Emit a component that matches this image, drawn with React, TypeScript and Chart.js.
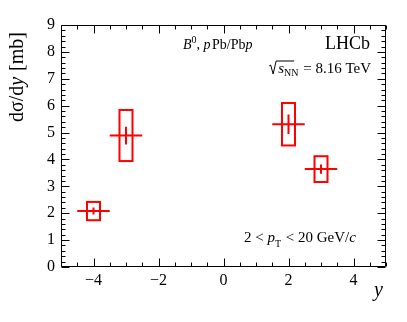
import React, { useEffect, useRef } from "react";
import { Chart, registerables } from "chart.js";

Chart.register(...registerables);

// ---- data ----
const rapidity = [-4, -3, 2, 3];
const crossSection = [2.08, 4.89, 5.31, 3.64];
const statError = [0.13, 0.33, 0.36, 0.17];
const systError = [0.34, 0.95, 0.79, 0.48];
const binHalfWidth = [0.5, 0.5, 0.5, 0.5];
const xTickValues = [-4, -2, 0, 2, 4];
const yTickValues = [0, 1, 2, 3, 4, 5, 6, 7, 8, 9];

const BOX_HALF = 0.2;
const RED = "#ff0000";
const SERIF = "'Liberation Serif', 'DejaVu Serif', serif";

type Run = { text: string; font: string; dy?: number; gap?: number };

function runsWidth(ctx: CanvasRenderingContext2D, runs: Run[]) {
  let w = 0;
  for (const r of runs) {
    ctx.font = r.font;
    w += ctx.measureText(r.text).width + (r.gap || 0);
  }
  return w;
}

function drawRuns(
  ctx: CanvasRenderingContext2D,
  runs: Run[],
  x: number,
  y: number,
  align: "left" | "right" = "left"
) {
  const w = runsWidth(ctx, runs);
  let cx = align === "right" ? x - w : x;
  ctx.textAlign = "left";
  ctx.textBaseline = "alphabetic";
  for (const r of runs) {
    ctx.font = r.font;
    ctx.fillText(r.text, cx, y + (r.dy || 0));
    cx += ctx.measureText(r.text).width + (r.gap || 0);
  }
  return w;
}

const reg = (s: number) => `${s}px ${SERIF}`;
const ital = (s: number) => `italic ${s}px ${SERIF}`;

const framePlugin = {
  id: "frameTicks",
  afterDraw(chart: any) {
    const { ctx, chartArea: a, scales } = chart;
    const xs = scales.x;
    const ys = scales.y;
    ctx.save();
    ctx.strokeStyle = "#000";
    ctx.lineWidth = 1;
    const L = Math.round(a.left) + 0.5;
    const R = Math.round(a.right) - 0.5;
    const T = Math.round(a.top) + 0.5;
    const B = Math.round(a.bottom) - 0.5;
    ctx.beginPath();
    ctx.rect(L, T, R - L, B - T);
    ctx.stroke();

    ctx.beginPath();
    // x ticks: every 0.5, major every 2
    for (let i = -10; i <= 10; i++) {
      const v = i * 0.5;
      const px = Math.round(xs.getPixelForValue(v)) + 0.5;
      const major = Math.abs(v % 2) < 1e-9;
      const len = major ? 8 : 4;
      ctx.moveTo(px, B);
      ctx.lineTo(px, B - len);
      ctx.moveTo(px, T);
      ctx.lineTo(px, T + len);
    }
    // y ticks: every 0.2, major every 1
    for (let i = 0; i <= 45; i++) {
      const v = i * 0.2;
      const py = Math.round(ys.getPixelForValue(v)) + 0.5;
      const major = i % 5 === 0;
      const len = major ? 8 : 4;
      ctx.moveTo(L, py);
      ctx.lineTo(L + len, py);
      ctx.moveTo(R, py);
      ctx.lineTo(R - len, py);
    }
    ctx.stroke();

    // text
    ctx.fillStyle = "#000";
    // B0, pPb/Pbp
    drawRuns(
      ctx,
      [
        { text: "B", font: ital(14) },
        { text: "0", font: reg(10), dy: -6 },
        { text: ", ", font: reg(14) },
        { text: "p", font: ital(14), gap: 1.5 },
        { text: "Pb/Pb", font: reg(14) },
        { text: "p", font: ital(14) },
      ],
      183,
      49
    );
    // LHCb
    drawRuns(ctx, [{ text: "LHCb", font: reg(18) }], 370, 49, "right");
    // sqrt(sNN) = 8.16 TeV
    const sqrtRuns: Run[] = [
      { text: "s", font: ital(15) },
      { text: "NN", font: reg(10), dy: 3, gap: 1 },
      { text: " = 8.16 TeV", font: reg(15) },
    ];
    const sw = drawRuns(ctx, sqrtRuns, 371, 73, "right");
    const sx = 371 - sw;
    ctx.beginPath();
    ctx.lineWidth = 1;
    ctx.moveTo(sx - 9, 66);
    ctx.lineTo(sx - 7.5, 65);
    ctx.lineTo(sx - 5, 74);
    ctx.lineTo(sx - 2, 61);
    ctx.lineTo(sx + 16, 61);
    ctx.stroke();
    // 2 < pT < 20 GeV/c
    drawRuns(
      ctx,
      [
        { text: "2 < ", font: reg(15) },
        { text: "p", font: ital(15) },
        { text: "T", font: reg(10), dy: 5, gap: 1 },
        { text: " < 20 GeV/", font: reg(15) },
        { text: "c", font: ital(15) },
      ],
      244,
      241.5
    );
    // x title
    drawRuns(ctx, [{ text: "y", font: ital(20) }], 383, 296, "right");
    // y title (rotated)
    ctx.save();
    ctx.translate(23, 32);
    ctx.rotate(-Math.PI / 2);
    const yRuns: Run[] = [
      { text: "d\u03c3/d", font: reg(20) },
      { text: "y", font: ital(20), gap: 1 },
      { text: " [mb]", font: reg(20) },
    ];
    drawRuns(ctx, yRuns, 0, 0, "right");
    ctx.restore();
    ctx.restore();
  },
};

const pointsPlugin = {
  id: "errorBoxes",
  afterDatasetsDraw(chart: any) {
    const { ctx, scales } = chart;
    const xs = scales.x;
    const ys = scales.y;
    ctx.save();
    ctx.strokeStyle = RED;
    ctx.lineWidth = 2;
    rapidity.forEach((xv, i) => {
      const yv = crossSection[i];
      const px = xs.getPixelForValue(xv);
      const py = ys.getPixelForValue(yv);
      const bx0 = xs.getPixelForValue(xv - BOX_HALF);
      const bx1 = xs.getPixelForValue(xv + BOX_HALF);
      const by0 = ys.getPixelForValue(yv + systError[i]);
      const by1 = ys.getPixelForValue(yv - systError[i]);
      ctx.strokeRect(bx0, by0, bx1 - bx0, by1 - by0);
      ctx.beginPath();
      ctx.moveTo(xs.getPixelForValue(xv - binHalfWidth[i]), py);
      ctx.lineTo(xs.getPixelForValue(xv + binHalfWidth[i]), py);
      ctx.moveTo(px, ys.getPixelForValue(yv + statError[i]));
      ctx.lineTo(px, ys.getPixelForValue(yv - statError[i]));
      ctx.stroke();
    });
    ctx.restore();
  },
};

const minus = (v: number) => (v < 0 ? "\u2212" + Math.abs(v) : String(v));

export default function App() {
  const ref = useRef<HTMLCanvasElement | null>(null);
  useEffect(() => {
    if (!ref.current) return;
    const chart = new Chart(ref.current, {
      type: "scatter",
      data: {
        datasets: [
          {
            data: rapidity.map((x, i) => ({ x, y: crossSection[i] })),
            pointRadius: 0,
            showLine: false,
            borderColor: RED,
            backgroundColor: RED,
          },
        ],
      },
      options: {
        animation: false,
        responsive: false,
        devicePixelRatio: 1,
        layout: { padding: { top: 25, right: 21, left: 0, bottom: 0 } },
        plugins: { legend: { display: false }, tooltip: { enabled: false } },
        scales: {
          x: {
            type: "linear",
            min: -5,
            max: 5,
            grid: { display: false, drawTicks: false },
            border: { display: false },
            afterBuildTicks: (s: any) => {
              s.ticks = xTickValues.map((value) => ({ value }));
            },
            afterFit: (s: any) => {
              s.height = 55;
            },
            ticks: {
              padding: 4,
              color: "#000",
              font: { family: SERIF, size: 16 },
              maxRotation: 0,
              callback: (v: any) => minus(Number(v)),
            },
          },
          y: {
            type: "linear",
            min: 0,
            max: 9,
            grid: { display: false, drawTicks: false },
            border: { display: false },
            afterBuildTicks: (s: any) => {
              s.ticks = yTickValues.map((value) => ({ value }));
            },
            afterFit: (s: any) => {
              s.width = 61;
            },
            ticks: {
              padding: 6,
              color: "#000",
              font: { family: SERIF, size: 16 },
              callback: (v: any) => minus(Number(v)),
            },
          },
        },
      },
      plugins: [pointsPlugin, framePlugin],
    } as any);
    return () => chart.destroy();
  }, []);
  return (
    <div style={{ position: "fixed", left: 0, top: 0, width: 407, height: 322, background: "#fff" }}>
      <canvas ref={ref} width={407} height={322} />
    </div>
  );
}
